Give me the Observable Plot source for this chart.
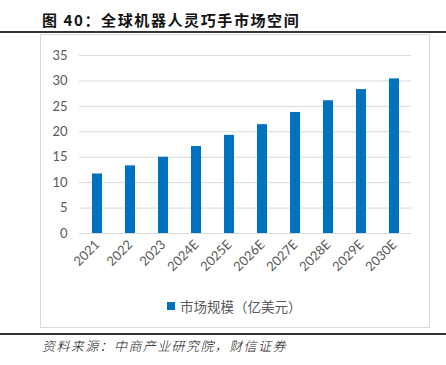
<!DOCTYPE html>
<html><head><meta charset="utf-8">
<script src="https://cdn.jsdelivr.net/npm/d3@7"></script>
<script src="https://cdn.jsdelivr.net/npm/@observablehq/plot@0.6"></script>
<style>
body{margin:0;background:#fff;}
#wrap{position:relative;width:446px;height:365px;overflow:hidden;font-family:"Noto Sans CJK SC",sans-serif;}
#title{position:absolute;left:42px;top:9px;font-size:15px;font-weight:bold;letter-spacing:1.6px;color:#111;white-space:nowrap;}
.rule{position:absolute;left:0;width:446px;height:2px;background:#333;}
#frame{position:absolute;left:40px;top:34px;width:388px;height:292px;border:1px solid #d9d9d9;}
#chart{position:absolute;left:40px;top:35px;}
#legend{position:absolute;left:167px;top:296px;font-size:13.5px;color:#595959;white-space:nowrap;display:flex;align-items:center;}
#legend span.sw{display:inline-block;width:8px;height:8px;background:#0070C0;margin-right:5px;}
#caption{position:absolute;left:42px;top:336px;font-size:13px;font-style:italic;font-weight:300;letter-spacing:1.4px;color:#111;white-space:nowrap;}
</style></head>
<body><div id="wrap">
<div id="title">图 40：全球机器人灵巧手市场空间</div>
<div class="rule" style="top:31px"></div>
<div id="frame"></div>
<div id="chart"></div>
<div id="legend"><span class="sw"></span>市场规模（亿美元）</div>
<div class="rule" style="top:333px"></div>
<div id="caption">资料来源：中商产业研究院，财信证券</div>
</div>
<script>
const years = ["2021","2022","2023","2024E","2025E","2026E","2027E","2028E","2029E","2030E"];
const values = [11.7, 13.3, 15.0, 17.1, 19.3, 21.4, 23.8, 26.1, 28.3, 30.4];
const yTicks = [0,5,10,15,20,25,30,35];
const data = years.map((y,i)=>({year:y, value:values[i]}));
const chart = Plot.plot({
  width:390, height:258,
  marginLeft:39, marginRight:19, marginTop:20, marginBottom:60,
  style:{fontFamily:"Lato, 'Liberation Sans', sans-serif", fontSize:"13px", color:"#595959", background:"transparent"},
  x:{domain:years, paddingInner:0.7, paddingOuter:0.35, label:null},
  y:{domain:[0,35], label:null},
  marks:[
    Plot.gridY(yTicks,{stroke:"#d9d9d9", strokeOpacity:1, strokeWidth:1}),
    Plot.barY(data,{x:"year", y:"value", fill:"#0070C0"}),
    Plot.axisY(yTicks,{tickSize:0, tickPadding:12, label:null, fontSize:13, fill:"#595959"}),
    Plot.axisX({tickSize:0, tickPadding:9, tickRotate:-45, label:null, fontSize:13, fill:"#595959"})
  ]
});
document.getElementById("chart").appendChild(chart);
</script>
</body></html>
